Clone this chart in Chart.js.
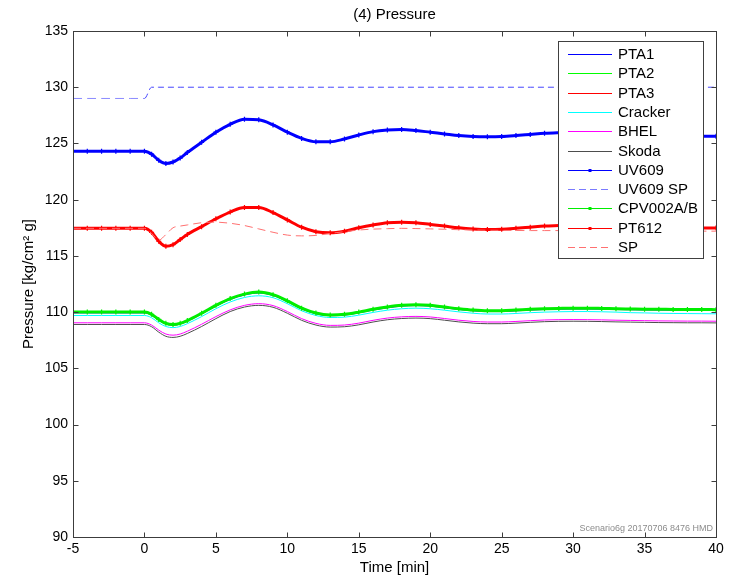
<!DOCTYPE html>
<html>
<head>
<meta charset="utf-8">
<script src="https://cdn.jsdelivr.net/npm/chart.js@4.4.0/dist/chart.umd.min.js"></script>
<style>
  html, body { margin: 0; padding: 0; background: #fff; }
  #wrap { width: 743px; height: 584px; }
</style>
</head>
<body>
<div id="wrap"><canvas id="c" width="743" height="584"></canvas></div>
<script>
// Sample times [min]
const times = [-5, -4, -3, -2, -1, 0, 0.5, 1, 1.5, 2, 2.5, 3,
  4, 5, 6, 7, 8, 9, 10, 11, 12, 13, 14, 15, 16, 17, 18, 19, 20, 21, 22,
  23, 24, 25, 26, 27, 28, 29, 30, 31, 32, 33, 34, 35, 36, 37, 38, 39, 40];

// Header pressures [kg/cm2 g]
const pta1 = [109.93, 109.93, 109.93, 109.93, 109.93, 109.93, 109.72, 109.27, 108.93, 108.83, 108.93, 109.18,
  109.83, 110.52, 111.12, 111.52, 111.7, 111.47, 110.93, 110.28, 109.85, 109.68, 109.73, 109.93, 110.18, 110.38,
  110.53, 110.58, 110.53, 110.38, 110.23, 110.11, 110.05, 110.05, 110.11, 110.18, 110.23, 110.26, 110.28, 110.28,
  110.26, 110.23, 110.21, 110.19, 110.18, 110.17, 110.16, 110.16, 110.15];
const pta2 = [110.0, 110.0, 110.0, 110.0, 110.0, 110.0, 109.79, 109.34, 108.99, 108.89, 108.99, 109.24,
  109.89, 110.59, 111.19, 111.59, 111.76, 111.54, 110.99, 110.34, 109.91, 109.74, 109.79, 109.99, 110.24, 110.44,
  110.59, 110.64, 110.59, 110.44, 110.29, 110.17, 110.11, 110.11, 110.17, 110.24, 110.29, 110.32, 110.34, 110.34,
  110.32, 110.29, 110.27, 110.25, 110.24, 110.23, 110.22, 110.22, 110.21];
const pta3 = [110.01, 110.01, 110.01, 110.01, 110.01, 110.01, 109.81, 109.36, 109.01, 108.91, 109.01, 109.26,
  109.91, 110.61, 111.21, 111.61, 111.77, 111.56, 111.01, 110.36, 109.93, 109.76, 109.81, 110.01, 110.26, 110.46,
  110.61, 110.66, 110.61, 110.46, 110.31, 110.19, 110.13, 110.13, 110.19, 110.26, 110.31, 110.34, 110.36, 110.36,
  110.34, 110.31, 110.29, 110.27, 110.26, 110.25, 110.24, 110.24, 110.23];
const cracker = [109.7, 109.7, 109.7, 109.7, 109.7, 109.7, 109.5, 109.05, 108.72, 108.62, 108.72, 108.97,
  109.6, 110.3, 110.9, 111.3, 111.45, 111.28, 110.75, 110.12, 109.7, 109.52, 109.55, 109.73, 109.97, 110.17,
  110.3, 110.35, 110.3, 110.17, 110.02, 109.9, 109.83, 109.83, 109.88, 109.95, 110.0, 110.03, 110.05, 110.05,
  110.03, 110.0, 109.95, 109.93, 109.9, 109.88, 109.87, 109.86, 109.85];
const bhel = [109.05, 109.05, 109.05, 109.05, 109.05, 109.05, 108.85, 108.4, 108.05, 107.95, 108.05, 108.3,
  108.92, 109.6, 110.2, 110.6, 110.75, 110.58, 110.05, 109.42, 109.0, 108.82, 108.85, 109.02, 109.27, 109.47,
  109.58, 109.62, 109.57, 109.43, 109.28, 109.17, 109.12, 109.12, 109.17, 109.24, 109.3, 109.33, 109.34, 109.33,
  109.31, 109.28, 109.26, 109.24, 109.22, 109.21, 109.2, 109.2, 109.19];
const skoda = [108.9, 108.9, 108.9, 108.9, 108.9, 108.9, 108.7, 108.22, 107.85, 107.75, 107.85, 108.1,
  108.72, 109.42, 110.05, 110.45, 110.6, 110.43, 109.9, 109.27, 108.85, 108.67, 108.7, 108.87, 109.12, 109.32,
  109.43, 109.47, 109.42, 109.28, 109.13, 109.02, 108.97, 108.97, 109.02, 109.09, 109.15, 109.18, 109.19, 109.18,
  109.16, 109.13, 109.11, 109.09, 109.07, 109.06, 109.05, 109.05, 109.04];

// Control loop signals
const uv609 = [124.3, 124.3, 124.3, 124.3, 124.3, 124.3, 124.05, 123.5, 123.22, 123.35, 123.7, 124.2,
  125.1, 126.0, 126.7, 127.15, 127.1, 126.65, 126.0, 125.45, 125.15, 125.15, 125.4, 125.75, 126.05, 126.2,
  126.25, 126.15, 126.0, 125.85, 125.7, 125.62, 125.6, 125.62, 125.7, 125.8, 125.9, 125.95, 125.98, 126.0,
  125.98, 125.92, 125.85, 125.8, 125.75, 125.7, 125.68, 125.65, 125.65];
const uv609Sp = [129, 129, 129, 129, 129, 129, 130, 130, 130, 130, 130, 130,
  130, 130, 130, 130, 130, 130, 130, 130, 130, 130, 130, 130, 130, 130,
  130, 130, 130, 130, 130, 130, 130, 130, 130, 130, 130, 130, 130, 130,
  130, 130, 130, 130, 130, 130, 130, 130, 130];
const cpv002 = [110.0, 110.0, 110.0, 110.0, 110.0, 110.0, 109.8, 109.35, 109.0, 108.9, 109.0, 109.25,
  109.9, 110.6, 111.2, 111.6, 111.78, 111.55, 111.0, 110.35, 109.92, 109.75, 109.8, 110.0, 110.25, 110.45,
  110.6, 110.65, 110.6, 110.45, 110.3, 110.18, 110.12, 110.12, 110.18, 110.25, 110.3, 110.33, 110.35, 110.35,
  110.33, 110.3, 110.28, 110.26, 110.25, 110.24, 110.23, 110.23, 110.22];
const pt612 = [117.45, 117.45, 117.45, 117.45, 117.45, 117.45, 117.1, 116.3, 115.85, 116.0, 116.45, 116.9,
  117.6, 118.3, 118.9, 119.3, 119.3, 118.85, 118.2, 117.55, 117.15, 117.05, 117.2, 117.5, 117.75, 117.95,
  118.0, 117.95, 117.8, 117.65, 117.5, 117.4, 117.35, 117.37, 117.45, 117.55, 117.65, 117.7, 117.75, 117.75,
  117.72, 117.68, 117.63, 117.6, 117.55, 117.52, 117.5, 117.48, 117.47];
const pt612Sp = [117.45, 117.45, 117.45, 117.45, 117.45, 117.45, 117.0, 116.4, 116.9, 117.5, 117.65, 117.75,
  117.95, 118.0, 117.9, 117.7, 117.4, 117.1, 116.85, 116.78, 116.82, 117.0, 117.15, 117.3, 117.38, 117.42,
  117.45, 117.43, 117.4, 117.37, 117.33, 117.3, 117.28, 117.27, 117.26, 117.25, 117.25, 117.25, 117.25, 117.25,
  117.24, 117.23, 117.22, 117.22, 117.21, 117.2, 117.2, 117.2, 117.2];

const xTicks = [-5, 0, 5, 10, 15, 20, 25, 30, 35, 40];
const yTicks = [90, 95, 100, 105, 110, 115, 120, 125, 130, 135];

const FONT = "'Liberation Sans', Arial, Helvetica, sans-serif";
const xy = vals => vals.map((v, i) => ({ x: times[i], y: v }));

function thin(label, vals, color, order, dash) {
  return {
    label, data: xy(vals), borderColor: color, backgroundColor: color,
    borderWidth: 1, borderDash: dash || [], pointRadius: 0, order,
    cubicInterpolationMode: 'monotone', marker: false
  };
}
function marked(label, vals, color, order) {
  return {
    label, data: xy(vals), borderColor: color, backgroundColor: color,
    borderWidth: 3, pointRadius: 2.5, pointStyle: 'cross', pointBorderWidth: 1.2,
    pointBorderColor: color, order, cubicInterpolationMode: 'monotone', marker: true
  };
}

const uvSpLine = thin('UV609 SP', uv609Sp, '#7a7aff', 4, [9, 5]);
// after the set-point step the trace is drawn denser and darker
uvSpLine.segment = {
  borderColor: c => (c.p0.parsed.x >= 0 ? '#4646ff' : '#8a8aff'),
  borderDash: c => (c.p0.parsed.x >= 0 ? [6, 4] : [9, 5])
};

const datasets = [
  thin('PTA1', pta1, '#0000ff', 11),
  thin('PTA2', pta2, '#00ff00', 10),
  thin('PTA3', pta3, '#ff0000', 9),
  thin('Cracker', cracker, '#00ffff', 8),
  thin('BHEL', bhel, '#ff00ff', 7),
  thin('Skoda', skoda, '#4d4d4d', 6),
  marked('UV609', uv609, '#0000ff', 5),
  uvSpLine,
  marked('CPV002A/B', cpv002, '#00ee00', 3),
  marked('PT612', pt612, '#ff0000', 2),
  thin('SP', pt612Sp, '#ff7070', 1, [8, 5])
];

// Axes box with inward ticks, in-axes legend, title and run stamp
const decorations = {
  id: 'decorations',
  afterDatasetsDraw(chart) {
    const ctx = chart.ctx;
    // legend box
    const lx = 558.5, ly = 41.5, lw = 145, lh = 217;
    ctx.save();
    ctx.fillStyle = '#ffffff';
    ctx.fillRect(lx, ly, lw, lh);
    ctx.strokeStyle = '#404040';
    ctx.lineWidth = 1;
    ctx.strokeRect(lx, ly, lw, lh);
    ctx.font = '15px ' + FONT;
    ctx.textBaseline = 'middle';
    ctx.textAlign = 'left';
    chart.data.datasets.forEach((ds, i) => {
      const y = Math.round(54 + i * 19.3) + 0.5;
      ctx.strokeStyle = ds.borderColor;
      ctx.lineWidth = 1;
      ctx.setLineDash(ds.borderDash && ds.borderDash.length ? [7, 4] : []);
      ctx.beginPath();
      ctx.moveTo(568, y);
      ctx.lineTo(612, y);
      ctx.stroke();
      ctx.setLineDash([]);
      if (ds.marker) {
        ctx.fillStyle = ds.borderColor;
        ctx.fillRect(588.5, y - 1.5, 3, 3);
      }
      ctx.fillStyle = '#000';
      ctx.fillText(ds.label, 618, y);
    });
    ctx.restore();
  },
  afterDraw(chart) {
    const ctx = chart.ctx;
    const a = chart.chartArea;
    const xs = chart.scales.x, ys = chart.scales.y;
    ctx.save();
    // title centred over the axes
    ctx.font = '15px ' + FONT;
    ctx.fillStyle = '#000';
    ctx.textAlign = 'center';
    ctx.textBaseline = 'middle';
    ctx.fillText('(4) Pressure', (a.left + a.right) / 2, 15);
    // run stamp
    ctx.font = '9px ' + FONT;
    ctx.fillStyle = '#8c8c8c';
    ctx.textAlign = 'right';
    ctx.fillText('Scenario6g 20170706 8476 HMD', a.right - 3, a.bottom - 8);
    // box
    ctx.strokeStyle = '#3c3c3c';
    ctx.lineWidth = 1;
    const L = Math.round(a.left) + 0.5, R = Math.round(a.right) + 0.5;
    const T = Math.round(a.top) + 0.5, B = Math.round(a.bottom) + 0.5;
    ctx.strokeRect(L, T, R - L, B - T);
    // inward ticks on all four sides
    ctx.beginPath();
    xTicks.forEach(v => {
      const px = Math.round(xs.getPixelForValue(v)) + 0.5;
      ctx.moveTo(px, B); ctx.lineTo(px, B - 5);
      ctx.moveTo(px, T); ctx.lineTo(px, T + 5);
    });
    yTicks.forEach(v => {
      const py = Math.round(ys.getPixelForValue(v)) + 0.5;
      ctx.moveTo(L, py); ctx.lineTo(L + 5, py);
      ctx.moveTo(R, py); ctx.lineTo(R - 5, py);
    });
    ctx.stroke();
    ctx.restore();
  }
};

new Chart(document.getElementById('c'), {
  type: 'line',
  data: { datasets },
  options: {
    responsive: false,
    animation: false,
    devicePixelRatio: 1,
    layout: { padding: { left: 0, right: 27, top: 31, bottom: 0 } },
    plugins: {
      legend: { display: false },
      tooltip: { enabled: false },
      title: { display: false }
    },
    scales: {
      x: {
        type: 'linear', min: -5, max: 40,
        afterBuildTicks: s => { s.ticks = xTicks.map(v => ({ value: v })); },
        afterFit: s => { s.height = 47; },
        grid: { display: false, drawTicks: false },
        border: { display: false },
        ticks: { padding: 4, maxRotation: 0, color: '#000', font: { family: FONT, size: 14 } },
        title: { display: true, text: 'Time [min]', color: '#000', font: { family: FONT, size: 15 }, padding: { top: 0, bottom: 7 } }
      },
      y: {
        type: 'linear', min: 90, max: 135,
        afterBuildTicks: s => { s.ticks = yTicks.map(v => ({ value: v })); },
        afterFit: s => { s.width = 73; },
        grid: { display: false, drawTicks: false },
        border: { display: false },
        ticks: { padding: 5, color: '#000', font: { family: FONT, size: 14 } },
        title: { display: true, text: 'Pressure [kg/cm² g]', color: '#000', font: { family: FONT, size: 15 }, padding: { top: 20, bottom: 0 } }
      }
    }
  },
  plugins: [decorations]
});
</script>
</body>
</html>
